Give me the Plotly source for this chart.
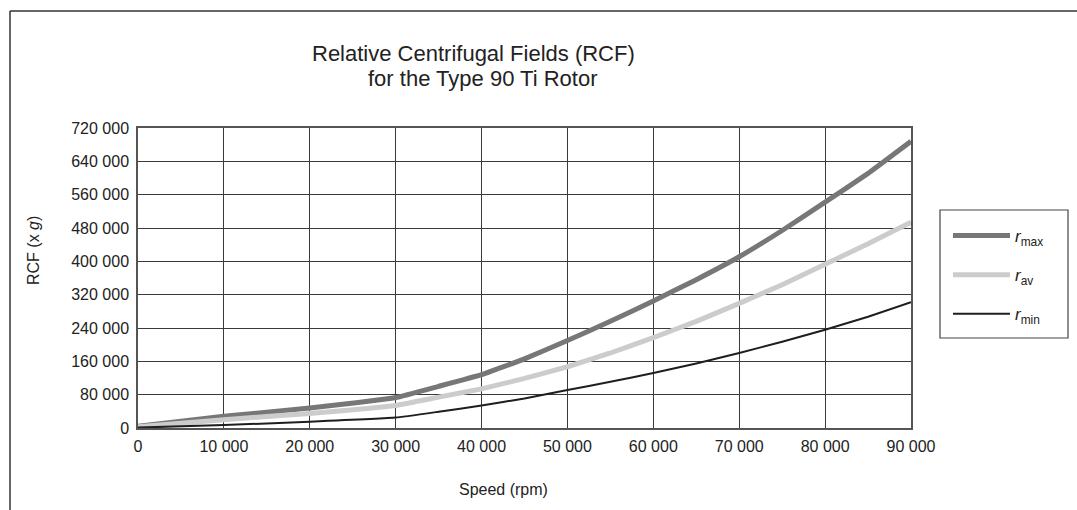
import plotly.graph_objects as go

speed = [0, 10000, 20000, 30000, 35000, 40000, 45000, 50000, 55000, 60000, 65000, 70000, 75000, 80000, 85000, 90000]
r_max = [4000, 28000, 48000, 73000, 100000, 128000, 166000, 210000, 256000, 305000, 356000, 411000, 474000, 542000, 611000, 688000]
r_av = [3000, 20000, 35000, 54000, 74000, 94000, 119000, 147000, 180000, 217000, 256000, 299000, 344000, 393000, 442000, 494000]
r_min = [1000, 7000, 15000, 25000, 39000, 54000, 71000, 91000, 111000, 132000, 155000, 180000, 207000, 236000, 267000, 302000]

names = ["<i>r</i><sub>max</sub>", "<i>r</i><sub>av</sub>", "<i>r</i><sub>min</sub>"]
values = [r_max, r_av, r_min]
colors = ["#777777", "#cccccc", "#1e1e1e"]
widths = [5, 5, 2]

title_lines = ["Relative Centrifugal Fields (RCF)", "for the Type 90 Ti Rotor"]
x_title = "Speed (rpm)"
y_title = "RCF (x <i>g</i>)"

W, H = 1077, 510
L, R, T, B = 138, 166, 128, 82
pw, ph = W - L - R, H - T - B


def px_x(p):
    return (p - L) / pw


def px_y(p):
    return (H - B - p) / ph


fig = go.Figure()
for i, (name, vals, col, w) in enumerate(zip(names, values, colors, widths)):
    fig.add_trace(go.Scatter(x=speed, y=vals, mode="lines", name=name,
                             line=dict(color=col, width=w, shape="spline", smoothing=0.3),
                             legendgroup=f"g{i}"))

txt = "#222222"
annotations = [
    dict(text=title_lines[0], x=px_x(473.5), y=px_y(53.5), font=dict(size=22, color=txt)),
    dict(text=title_lines[1], x=px_x(483), y=px_y(78.5), font=dict(size=22, color=txt)),
    dict(text=x_title, x=px_x(503), y=px_y(489), font=dict(size=16, color=txt)),
    dict(text=y_title, x=px_x(33), y=px_y(251), textangle=-90, font=dict(size=16, color=txt)),
]
for a in annotations:
    a.update(xref="paper", yref="paper", xanchor="center", yanchor="middle", showarrow=False)

fig.update_layout(
    width=W, height=H,
    margin=dict(l=L, r=R, t=T, b=B, autoexpand=False),
    paper_bgcolor="white", plot_bgcolor="white",
    font=dict(family="Liberation Sans, Arial, sans-serif", size=16, color=txt),
    separators=". ",
    showlegend=True,
    legend=dict(x=px_x(948), y=px_y(218), xanchor="left", yanchor="top",
                borderwidth=0, bgcolor="rgba(0,0,0,0)",
                tracegroupgap=14, itemwidth=57,
                font=dict(size=17, color=txt)),
    xaxis=dict(range=[0, 90000], dtick=10000, tickformat=",d",
               showgrid=True, gridcolor="#3a3a3a", gridwidth=1,
               showline=True, linecolor="#555", linewidth=1.5, mirror=True,
               zeroline=False, ticks="", fixedrange=True, ticklabelstandoff=3,
               tickfont=dict(size=16)),
    yaxis=dict(range=[0, 720000], dtick=80000, tickformat=",d",
               showgrid=True, gridcolor="#3a3a3a", gridwidth=1,
               showline=True, linecolor="#555", linewidth=1.5, mirror=True,
               zeroline=False, ticks="", fixedrange=True, ticklabelstandoff=4,
               tickfont=dict(size=16)),
    annotations=annotations,
    shapes=[
        dict(type="line", xref="paper", yref="paper", x0=px_x(10), x1=px_x(W + 5),
             y0=px_y(11), y1=px_y(11), line=dict(color="#333", width=1.5)),
        dict(type="line", xref="paper", yref="paper", x0=px_x(10), x1=px_x(10),
             y0=px_y(11), y1=px_y(H + 5), line=dict(color="#333", width=1.5)),
        dict(type="rect", xref="paper", yref="paper", x0=px_x(940), x1=px_x(1068),
             y0=px_y(210), y1=px_y(338), line=dict(color="#444", width=1.2),
             fillcolor="rgba(0,0,0,0)", layer="above"),
    ],
)

fig.write_html("out.html", config={"displayModeBar": False},
               post_script="document.body.style.margin='0';")
